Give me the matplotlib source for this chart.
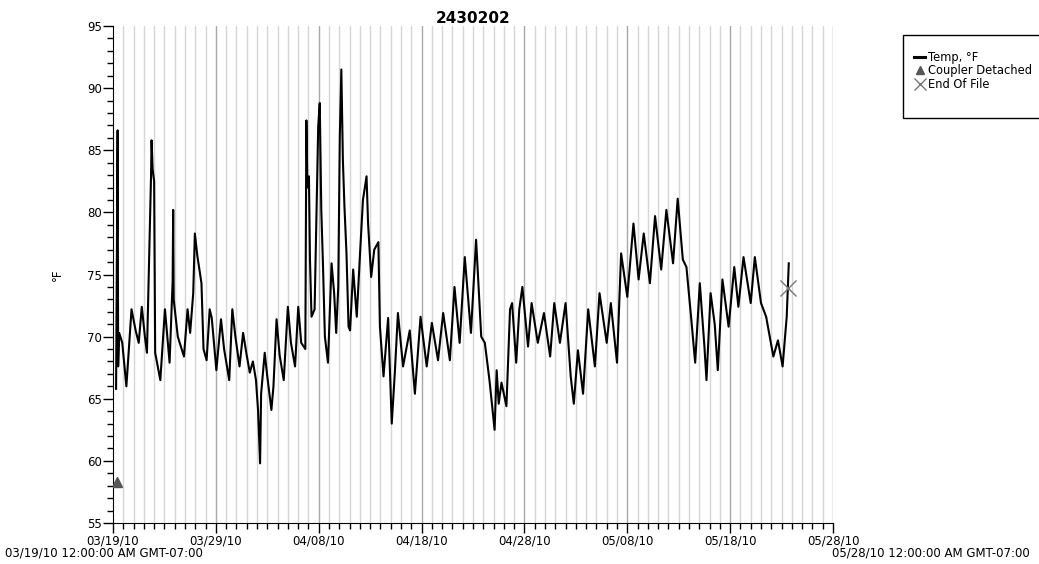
import numpy as np
import matplotlib
matplotlib.use('Agg')
import matplotlib.pyplot as plt
from matplotlib.lines import Line2D
from matplotlib.patches import Rectangle

days = [0.3, 0.45, 0.5, 0.6, 0.9, 1.3, 1.8, 2.2, 2.5, 2.8, 3.1, 3.3, 3.7, 3.75, 3.85, 4.0,
        4.1, 4.6, 5.05, 5.5, 5.8, 5.85, 5.9, 6.3, 6.9, 7.25, 7.5, 7.8, 7.96, 8.2, 8.6, 8.8,
        9.1, 9.4, 9.6, 10.05, 10.5, 10.8, 11.3, 11.6, 11.9, 12.3, 12.65, 13.0, 13.3, 13.6,
        13.9, 14.1, 14.3, 14.4, 14.75, 15.0, 15.4, 15.6, 15.9, 16.2, 16.6, 17.0, 17.3, 17.7,
        18.01, 18.3, 18.7, 18.8, 18.9, 19.05, 19.15, 19.3, 19.6, 19.95, 20.1, 20.25, 20.4,
        20.6, 20.9, 21.25, 21.5, 21.7, 21.9, 22.05, 22.2, 22.35, 22.5, 22.7, 22.9, 23.05,
        23.35, 23.7, 24.0, 24.3, 24.65, 24.8, 25.1, 25.4, 25.8, 25.95, 26.3, 26.75, 27.1,
        27.4, 27.7, 28.2, 28.85, 29.35, 29.9, 30.5, 31.0, 31.6, 32.1, 32.75, 33.2, 33.7,
        34.2, 34.8, 35.3, 35.8, 36.15, 36.6, 37.1, 37.3, 37.5, 37.77, 38.25, 38.6, 38.8,
        39.2, 39.5, 39.8, 40.35, 40.7, 41.3, 41.9, 42.5, 42.9, 43.45, 44.0, 44.5, 44.8,
        45.2, 45.7, 46.2, 46.85, 47.3, 48.0, 48.4, 49.0, 49.4, 50.0, 50.6, 51.1, 51.6,
        52.2, 52.7, 53.3, 53.8, 54.45, 54.9, 55.4, 55.75, 56.2, 56.6, 57.05, 57.5, 57.7,
        58.1, 58.5, 58.8, 59.25, 59.85, 60.4, 60.8, 61.3, 62.0, 62.4, 63.0, 63.5, 64.2,
        64.65, 65.1, 65.5, 65.7]
temp_f = [65.8, 86.6, 67.6, 70.3, 69.5, 66.0, 72.2, 70.5, 69.5, 72.4, 70.0, 68.7, 83.0, 85.8, 83.5, 82.5,
          68.7, 66.5, 72.2, 67.9, 74.5, 80.2, 73.0, 70.0, 68.4, 72.2, 70.3, 73.5, 78.3, 76.5, 74.3, 69.0,
          68.1, 72.2, 71.5, 67.3, 71.4, 69.0, 66.5, 72.2, 70.0, 67.6, 70.3, 68.5, 67.1, 68.0,
          66.5, 64.1, 59.8, 65.4, 68.7, 66.8, 64.1, 66.0, 71.4, 68.5, 66.5, 72.4, 69.5, 67.6,
          72.4, 69.5, 69.0, 87.4, 82.0, 82.9, 76.2, 71.6, 72.2, 86.9, 88.8, 80.2, 76.2,
          70.0, 67.9, 75.9, 73.5, 70.3, 74.0, 86.1, 91.5, 84.2, 80.5, 76.7, 70.8, 70.5,
          75.4, 71.6, 76.4, 81.0, 82.9, 79.1, 74.8, 77.0, 77.6, 70.8, 66.8, 71.5, 63.0,
          67.1, 71.9, 67.6, 70.5, 65.4, 71.6, 67.6, 71.1, 68.1, 71.9, 68.1, 74.0, 69.5,
          76.4, 70.3, 77.8, 70.0, 69.5, 66.5, 62.5, 67.3, 64.6, 66.3, 64.4, 72.2, 72.7,
          67.9, 72.2, 74.0, 69.2, 72.7, 69.5, 71.9, 68.4, 72.7, 69.5, 72.7, 66.8, 64.6,
          68.9, 65.4, 72.2, 67.6, 73.5, 69.5, 72.7, 67.9, 76.7, 73.2, 79.1, 74.6, 78.3,
          74.3, 79.7, 75.4, 80.2, 75.9, 81.1, 76.2, 75.6, 71.6, 67.9, 74.3, 69.2, 66.5,
          73.5, 71.0, 67.3, 74.6, 70.8, 75.6, 72.4, 76.4, 72.7, 76.4, 72.7, 71.6, 68.4,
          69.7, 67.6, 71.6, 75.9]

coupler_day, coupler_temp = [0.4], [58.3]
eof_day, eof_temp = [65.6], [73.9]

tick_days = [0, 10, 20, 30, 40, 50, 60, 70]
tick_labels = ['03/19/10', '03/29/10', '04/08/10', '04/18/10', '04/28/10',
               '05/08/10', '05/18/10', '05/28/10']

plt.rcParams['font.family'] = ['DejaVu Sans']

fig = plt.figure(figsize=(10.39, 5.64), dpi=100)
ax = fig.add_axes([113 / 1039, 1 - 523 / 564, 720 / 1039, 497 / 564])

# daily grid, darker every 10 days
for d in range(1, 71):
    ax.axvline(d, color='#a8a8a8' if d % 10 == 0 else '#d6d6d6', lw=1.0, zorder=0)

ax.plot(days, temp_f, color='black', lw=1.5, zorder=3)
ax.plot(coupler_day, coupler_temp, marker='^', color='#555555', ms=7, ls='none', zorder=4)
ax.plot(eof_day, eof_temp, marker='x', color='#777777', ms=11, mew=1.0, ls='none', zorder=4)

ax.set_xlim(0, 70)
ax.set_ylim(55, 95)
ax.set_xticks(tick_days)
ax.set_xticklabels(tick_labels, fontsize=8.5)
ax.set_xticks(range(0, 71), minor=True)
ax.set_yticks(range(55, 96, 5))
ax.set_yticks(range(55, 96), minor=True)
ax.tick_params(axis='both', which='major', length=7, width=1, labelsize=8.5, pad=1)
ax.tick_params(axis='both', which='minor', length=4, width=1)
ax.spines['top'].set_visible(False)
ax.spines['right'].set_visible(False)

ax.set_title('2430202', fontsize=11, fontweight='bold', pad=2)
ax.set_ylabel('°F', fontsize=8.5, labelpad=17)

fig.text(5 / 1039, 1 - 553 / 564, '03/19/10 12:00:00 AM GMT-07:00', fontsize=8.5, va='center')
fig.text(1030 / 1039, 1 - 553 / 564, '05/28/10 12:00:00 AM GMT-07:00', fontsize=8.5,
         va='center', ha='right')

# legend box
fig.patches.append(Rectangle((903 / 1039, 1 - 118 / 564), 140 / 1039, 83 / 564,
                             transform=fig.transFigure, fill=False, ec='black', lw=1.0))
handles = [Line2D([], [], color='black', lw=2.2),
           Line2D([], [], marker='^', color='#555555', ls='none', ms=6),
           Line2D([], [], marker='x', color='#777777', ls='none', ms=8, mew=1.0)]
fig.legend(handles, ['Temp, °F', 'Coupler Detached', 'End Of File'],
           loc='upper left', bbox_to_anchor=(908 / 1039, 1 - 45 / 564),
           fontsize=8.3, frameon=False, handlelength=1.0, borderpad=0,
           handletextpad=0.2, labelspacing=0.05)

fig.savefig('out.png', dpi=100)
